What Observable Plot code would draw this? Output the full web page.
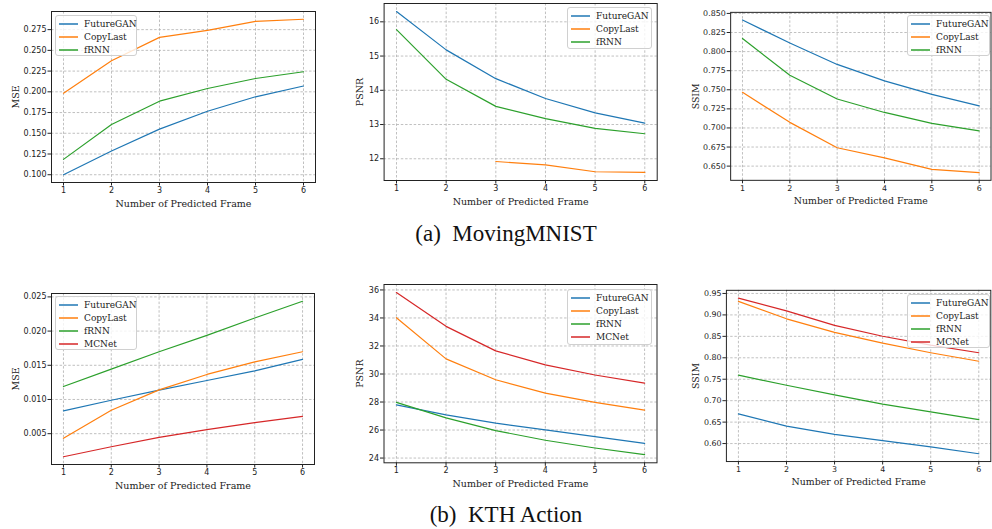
<!DOCTYPE html>
<html><head><meta charset="utf-8">
<script src="https://cdn.jsdelivr.net/npm/d3@7"></script>
<script src="https://cdn.jsdelivr.net/npm/@observablehq/plot@0.6"></script>
<style>
body{margin:0;background:#fff;}
#root{position:relative;width:992px;height:529px;overflow:hidden;background:#fff;}
.panel{position:absolute;}
.legend{position:absolute;background:rgba(255,255,255,0.8);border:1px solid #d0d0d0;border-radius:3px;box-sizing:border-box;font-family:"DejaVu Serif","Liberation Serif",serif;font-size:9px;color:#222;}
.legend .row{position:absolute;left:0;width:100%;height:12px;line-height:12px;white-space:nowrap;}
.legend .sw{position:absolute;left:3px;top:0;width:20px;height:12px;display:block;}
.legend .tx{position:absolute;left:28px;top:0;}
.caption{position:absolute;width:992px;left:10px;text-align:center;font-family:"Liberation Serif","Times New Roman",Times,"DejaVu Serif",serif;font-size:23px;color:#111;}
</style></head><body><div id="root"></div>
<script>
const frames = [1, 2, 3, 4, 5, 6];
const seriesNames = ["FutureGAN", "CopyLast", "fRNN", "MCNet"];
const seriesColors = ["#1f77b4", "#ff7f0e", "#2ca02c", "#d62728"];
const xLabel = "Number of Predicted Frame";

// (a) MovingMNIST
const mnistMseFutureGAN = [0.100, 0.1286, 0.155, 0.1766, 0.194, 0.207];
const mnistMseCopyLast  = [0.1984, 0.2375, 0.2657, 0.2742, 0.285, 0.2875];
const mnistMseFRNN      = [0.1185, 0.1605, 0.1887, 0.204, 0.2161, 0.2242];
const mnistMseTicks = [0.100, 0.125, 0.150, 0.175, 0.200, 0.225, 0.250, 0.275];

const mnistPsnrFutureGAN = [16.30, 15.18, 14.34, 13.76, 13.34, 13.04];
const mnistPsnrCopyLast  = [null, null, 11.92, 11.82, 11.62, 11.60];
const mnistPsnrFRNN      = [15.77, 14.32, 13.53, 13.17, 12.89, 12.73];
const mnistPsnrTicks = [12, 13, 14, 15, 16];

const mnistSsimFutureGAN = [0.8414, 0.8112, 0.7832, 0.7616, 0.7440, 0.7289];
const mnistSsimCopyLast  = [0.7466, 0.7073, 0.6741, 0.6608, 0.6457, 0.6414];
const mnistSsimFRNN      = [0.8172, 0.7690, 0.7379, 0.7203, 0.7060, 0.6961];
const mnistSsimTicks = [0.650, 0.675, 0.700, 0.725, 0.750, 0.775, 0.800, 0.825, 0.850];

// (b) KTH Action
const kthMseFutureGAN = [0.00833, 0.00989, 0.01136, 0.01278, 0.01419, 0.01586];
const kthMseCopyLast  = [0.00432, 0.00842, 0.01141, 0.01366, 0.01551, 0.01698];
const kthMseFRNN      = [0.01190, 0.01444, 0.01698, 0.01938, 0.02192, 0.02436];
const kthMseMCNet     = [0.00163, 0.00309, 0.00446, 0.00559, 0.00661, 0.00754];
const kthMseTicks = [0.005, 0.010, 0.015, 0.020, 0.025];

const kthPsnrFutureGAN = [27.80, 27.08, 26.49, 26.01, 25.53, 25.05];
const kthPsnrCopyLast  = [34.02, 31.08, 29.59, 28.64, 27.97, 27.42];
const kthPsnrFRNN      = [27.97, 26.87, 25.96, 25.27, 24.72, 24.24];
const kthPsnrMCNet     = [35.81, 33.40, 31.65, 30.65, 29.93, 29.35];
const kthPsnrTicks = [24, 26, 28, 30, 32, 34, 36];

const kthSsimFutureGAN = [0.6691, 0.6407, 0.6215, 0.6069, 0.5923, 0.5762];
const kthSsimCopyLast  = [0.9316, 0.8909, 0.8594, 0.8341, 0.8118, 0.7919];
const kthSsimFRNN      = [0.7596, 0.7359, 0.7136, 0.6921, 0.6737, 0.6560];
const kthSsimMCNet     = [0.9392, 0.9093, 0.8755, 0.8502, 0.8295, 0.8118];
const kthSsimTicks = [0.60, 0.65, 0.70, 0.75, 0.80, 0.85, 0.90, 0.95];

const captions = ["(a)\u2002MovingMNIST", "(b)\u2002KTH Action"];

const panels = [
  {series:[mnistMseFutureGAN, mnistMseCopyLast, mnistMseFRNN], ticks:mnistMseTicks, fmt:".3f", yLabel:"MSE",
   left:0, top:0, w:320, h:215, m:[11,5,33,51], ylx:-36,
   legend:{left:55, top:15, w:82, h:41}},
  {series:[mnistPsnrFutureGAN, mnistPsnrCopyLast, mnistPsnrFRNN], ticks:mnistPsnrTicks, fmt:"d", yLabel:"PSNR",
   left:320, top:0, w:340, h:215, m:[3,3.3,35,63.6], ylx:-24.5,
   legend:{left:567, top:7, w:85, h:42}},
  {series:[mnistSsimFutureGAN, mnistSsimCopyLast, mnistSsimFRNN], ticks:mnistSsimTicks, fmt:".3f", yLabel:"SSIM",
   left:660, top:0, w:336, h:215, m:[12,1.5,33,71], ylx:-35,
   legend:{left:907, top:15, w:83, h:41}},
  {series:[kthMseFutureGAN, kthMseCopyLast, kthMseFRNN, kthMseMCNet], ticks:kthMseTicks, fmt:".3f", yLabel:"MSE",
   left:0, top:275, w:320, h:225, m:[18,6,36,51], ylx:-36,
   legend:{left:55, top:296, w:82, h:54}},
  {series:[kthPsnrFutureGAN, kthPsnrCopyLast, kthPsnrFRNN, kthPsnrMCNet], ticks:kthPsnrTicks, fmt:"d", yLabel:"PSNR",
   left:320, top:275, w:340, h:225, m:[9,3.5,37.7,63.5], ylx:-24.5,
   legend:{left:567, top:289, w:85, h:56}},
  {series:[kthSsimFutureGAN, kthSsimCopyLast, kthSsimFRNN, kthSsimMCNet], ticks:kthSsimTicks, fmt:".2f", yLabel:"SSIM",
   left:660, top:275, w:336, h:225, m:[15,1.7,36.7,66.7], ylx:-31,
   legend:{left:907, top:294, w:83, h:54}}
];

const root = document.getElementById("root");
const serif = "DejaVu Serif, Liberation Serif, serif";

function padded(vals) {
  const v = vals.filter(d => d != null);
  const lo = d3.min(v), hi = d3.max(v), p = (hi - lo) * 0.05;
  return [lo - p, hi + p];
}

panels.forEach(cfg => {
  const rows = [];
  cfg.series.forEach((vals, si) => {
    vals.forEach((v, i) => rows.push({frame: frames[i], value: v, series: seriesNames[si]}));
  });
  const names = seriesNames.slice(0, cfg.series.length);
  const svg = Plot.plot({
    width: cfg.w, height: cfg.h,
    marginTop: cfg.m[0], marginRight: cfg.m[1], marginBottom: cfg.m[2], marginLeft: cfg.m[3],
    x: {domain: [0.75, 6.25], label: null},
    y: {domain: padded(rows.map(d => d.value)), label: null},
    color: {domain: names, range: seriesColors.slice(0, names.length)},
    style: {fontFamily: "DejaVu Sans, sans-serif", fontSize: "8px", color: "#222", background: "transparent", overflow: "visible"},
    marks: [
      Plot.gridX(frames, {stroke: "#b0b0b0", strokeOpacity: 1, strokeWidth: 0.8, strokeDasharray: "2.5,1.8"}),
      Plot.gridY(cfg.ticks, {stroke: "#b0b0b0", strokeOpacity: 1, strokeWidth: 0.8, strokeDasharray: "2.5,1.8"}),
      Plot.line(rows, {x: "frame", y: "value", z: "series", stroke: "series", strokeWidth: 1.2}),
      Plot.frame({stroke: "#222", strokeWidth: 1}),
      Plot.axisX(frames, {tickSize: 3.5, tickPadding: 1.5, tickFormat: d => String(d), label: null, stroke: "#222"}),
      Plot.axisY(cfg.ticks, {tickSize: 3.5, tickPadding: 1.5, tickFormat: d3.format(cfg.fmt), label: null, stroke: "#222"}),
      Plot.text([xLabel], {text: d => d, frameAnchor: "bottom", lineAnchor: "middle", textAnchor: "middle", dy: 21, fontFamily: serif, fontSize: 9.5, fill: "#222"}),
      Plot.text([cfg.yLabel], {text: d => d, frameAnchor: "left", lineAnchor: "middle", textAnchor: "middle", dx: cfg.ylx, rotate: -90, fontFamily: serif, fontSize: 9.5, fill: "#222"})
    ]
  });
  const wrap = document.createElement("div");
  wrap.className = "panel";
  wrap.style.left = cfg.left + "px";
  wrap.style.top = cfg.top + "px";
  wrap.appendChild(svg);
  root.appendChild(wrap);

  const lg = document.createElement("div");
  lg.className = "legend";
  lg.style.left = cfg.legend.left + "px";
  lg.style.top = cfg.legend.top + "px";
  lg.style.width = cfg.legend.w + "px";
  lg.style.height = cfg.legend.h + "px";
  names.forEach((n, i) => {
    const r = document.createElement("div");
    r.className = "row";
    r.style.top = Math.round(1.5 + i * 13.2) + "px";
    r.innerHTML = `<svg class="sw" width="20" height="12"><line x1="0" x2="19" y1="6" y2="6" stroke="${seriesColors[i]}" stroke-width="1.5"/></svg><span class="tx">${n}</span>`;
    lg.appendChild(r);
  });
  root.appendChild(lg);
});

captions.forEach((c, i) => {
  const d = document.createElement("div");
  d.className = "caption";
  d.style.top = (i === 0 ? 221 : 502) + "px";
  d.textContent = c;
  root.appendChild(d);
});
</script></body></html>
